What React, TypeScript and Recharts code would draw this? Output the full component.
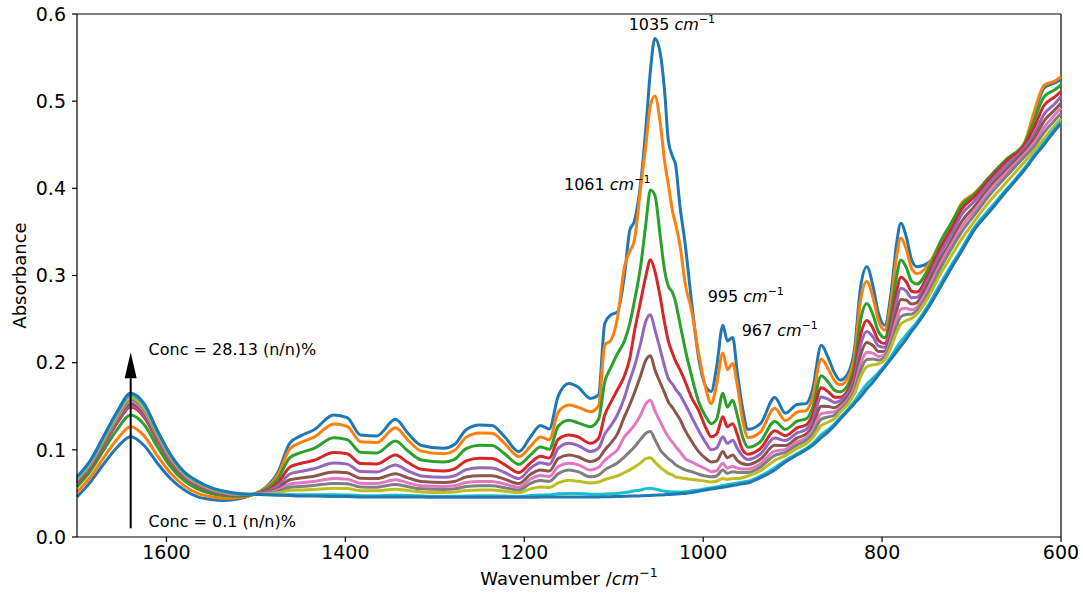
import React from 'react';
import { LineChart, Line, XAxis, YAxis, ReferenceLine, ReferenceDot } from 'recharts';

// wavenumbers (cm-1), shared by every spectrum
const WAVENUMBERS = [
  1700, 1685, 1670, 1655, 1640, 1625, 1610, 1595, 1580, 1565, 1550, 1535, 1520, 1505,
  1490, 1475, 1462, 1450, 1435, 1413, 1398, 1383, 1365, 1344, 1330, 1315, 1290, 1278, 1265, 1250, 1236, 1222, 1206,
  1193, 1182, 1172, 1162, 1150, 1140, 1126,
  1117, 1110, 1103, 1096, 1088, 1082, 1077, 1070, 1064, 1059, 1054, 1048, 1043, 1039, 1034, 1031, 1026, 1020, 1013, 1005, 997, 991, 985, 978, 973, 967, 962, 956, 950,
  936, 920, 908, 895, 885, 878, 868, 860, 853, 847, 838, 831, 824, 817, 810, 804, 797, 790, 784, 779, 773, 767, 761,
  749, 734, 720, 711, 697, 680, 660, 641, 630, 619, 607, 600,
];

// absorbance, highest concentration first
const S01 = [
  0.046, 0.063, 0.084, 0.103, 0.115, 0.105, 0.0845, 0.0665, 0.054, 0.046, 0.043, 0.042, 0.0436, 0.048,
  0.056, 0.075, 0.108, 0.116, 0.123, 0.14, 0.137, 0.117, 0.116, 0.135, 0.119, 0.105, 0.1017, 0.106, 0.123, 0.1285, 0.128, 0.115, 0.098,
  0.115, 0.128, 0.124, 0.162, 0.176, 0.172, 0.159,
  0.163, 0.245, 0.255, 0.258, 0.3, 0.352, 0.362, 0.405, 0.47, 0.535, 0.572, 0.555, 0.51, 0.455, 0.436, 0.428, 0.38, 0.335, 0.27, 0.205, 0.1725, 0.167, 0.195, 0.243, 0.225, 0.229, 0.19, 0.148, 0.1235,
  0.13, 0.16, 0.142, 0.152, 0.153, 0.168, 0.22, 0.205, 0.188, 0.18, 0.188, 0.2145, 0.287, 0.31, 0.287, 0.2566, 0.243, 0.2796, 0.335, 0.36, 0.3445, 0.318, 0.31,
  0.314, 0.333, 0.36, 0.378, 0.391, 0.411, 0.432, 0.45, 0.485, 0.515, 0.521, 0.525,
];
const S02 = [
  0.0513, 0.0688, 0.0914, 0.1124, 0.1265, 0.116, 0.0931, 0.0728, 0.0587, 0.0501, 0.0461, 0.0444, 0.0451, 0.0482,
  0.0552, 0.072, 0.1013, 0.1084, 0.1146, 0.1297, 0.127, 0.1092, 0.1083, 0.1252, 0.111, 0.0985, 0.0955, 0.0993, 0.1145, 0.1194, 0.1189, 0.1074, 0.0922,
  0.1039, 0.1148, 0.1115, 0.1434, 0.1514, 0.149, 0.1438,
  0.15, 0.22, 0.226, 0.25, 0.31, 0.328, 0.34, 0.4, 0.45, 0.495, 0.506, 0.475, 0.43, 0.405, 0.372, 0.36, 0.335, 0.29, 0.26, 0.21, 0.17, 0.153, 0.175, 0.211, 0.192, 0.199, 0.175, 0.135, 0.114,
  0.1207, 0.1476, 0.1336, 0.1433, 0.145, 0.1586, 0.2041, 0.1924, 0.179, 0.1746, 0.1828, 0.2071, 0.2719, 0.2932, 0.2739, 0.2481, 0.2372, 0.2705, 0.3202, 0.3431, 0.3304, 0.3082, 0.3021,
  0.311, 0.34, 0.365, 0.383, 0.394, 0.413, 0.434, 0.452, 0.488, 0.518, 0.523, 0.528,
];
const S03 = [
  0.0575, 0.0755, 0.1, 0.1235, 0.14, 0.129, 0.1033, 0.0803, 0.0643, 0.055, 0.0498, 0.0472, 0.0468, 0.0485,
  0.0539, 0.0674, 0.0911, 0.0967, 0.1017, 0.1138, 0.1117, 0.0971, 0.0964, 0.1101, 0.0986, 0.0884, 0.086, 0.0891, 0.1013, 0.1053, 0.1049, 0.0955, 0.0833,
  0.0942, 0.1033, 0.1006, 0.1272, 0.134, 0.131, 0.1265,
  0.135, 0.178, 0.195, 0.21, 0.225, 0.245, 0.27, 0.31, 0.36, 0.398, 0.392, 0.345, 0.305, 0.288, 0.28, 0.27, 0.245, 0.215, 0.185, 0.155, 0.138, 0.13, 0.135, 0.165, 0.149, 0.157, 0.14, 0.115, 0.103,
  0.1095, 0.1326, 0.1235, 0.1329, 0.1355, 0.1472, 0.185, 0.1773, 0.1682, 0.1665, 0.1751, 0.1961, 0.2492, 0.268, 0.2543, 0.2354, 0.2286, 0.2569, 0.2981, 0.3177, 0.3093, 0.2934, 0.2902,
  0.306, 0.34, 0.365, 0.381, 0.393, 0.413, 0.434, 0.451, 0.478, 0.505, 0.513, 0.5185,
];
const S04 = [
  0.0616, 0.08, 0.1058, 0.1309, 0.149, 0.1376, 0.11, 0.0852, 0.068, 0.0582, 0.0522, 0.0491, 0.048, 0.0487,
  0.0526, 0.0626, 0.0802, 0.0843, 0.088, 0.097, 0.0954, 0.0843, 0.0838, 0.0941, 0.0854, 0.0778, 0.0758, 0.0782, 0.0874, 0.0903, 0.0901, 0.083, 0.0739,
  0.0851, 0.0927, 0.0905, 0.1121, 0.117, 0.115, 0.1075,
  0.113, 0.14, 0.155, 0.1686, 0.185, 0.205, 0.235, 0.27, 0.3, 0.318, 0.305, 0.275, 0.245, 0.225, 0.21, 0.202, 0.192, 0.178, 0.16, 0.145, 0.125, 0.115, 0.118, 0.138, 0.1265, 0.13, 0.118, 0.1, 0.095,
  0.1015, 0.1218, 0.1162, 0.1253, 0.1286, 0.139, 0.1712, 0.1664, 0.1604, 0.1602, 0.1691, 0.1874, 0.2316, 0.2484, 0.239, 0.2255, 0.2219, 0.2463, 0.2809, 0.298, 0.2928, 0.2819, 0.281,
  0.3, 0.333, 0.358, 0.376, 0.39, 0.41, 0.432, 0.449, 0.47, 0.495, 0.505, 0.511,
];
const S05 = [
  0.0626, 0.081, 0.107, 0.1325, 0.151, 0.1396, 0.1115, 0.0863, 0.0688, 0.059, 0.0528, 0.0495, 0.0482, 0.0487,
  0.0516, 0.0591, 0.0723, 0.0753, 0.0782, 0.0848, 0.0836, 0.0751, 0.0747, 0.0825, 0.0759, 0.0701, 0.0685, 0.0703, 0.0773, 0.0795, 0.0793, 0.074, 0.067,
  0.0789, 0.0853, 0.0834, 0.1017, 0.1075, 0.105, 0.098,
  0.102, 0.118, 0.128, 0.14, 0.16, 0.18, 0.195, 0.222, 0.248, 0.255, 0.238, 0.215, 0.195, 0.182, 0.175, 0.17, 0.163, 0.152, 0.138, 0.122, 0.108, 0.1, 0.102, 0.115, 0.1075, 0.111, 0.102, 0.093, 0.089,
  0.0953, 0.1135, 0.1106, 0.1195, 0.1233, 0.1327, 0.1606, 0.158, 0.1544, 0.1562, 0.1652, 0.1819, 0.2202, 0.2358, 0.2292, 0.2192, 0.2176, 0.2395, 0.2698, 0.2853, 0.2822, 0.2745, 0.275,
  0.295, 0.327, 0.352, 0.37, 0.385, 0.406, 0.428, 0.446, 0.462, 0.485, 0.497, 0.505,
];
const S06 = [
  0.0635, 0.082, 0.1083, 0.1342, 0.153, 0.1415, 0.113, 0.0874, 0.0697, 0.0597, 0.0533, 0.0499, 0.0485, 0.0488,
  0.0508, 0.0561, 0.0657, 0.0677, 0.0698, 0.0746, 0.0737, 0.0673, 0.067, 0.0727, 0.0679, 0.0636, 0.0624, 0.0637, 0.0688, 0.0704, 0.0703, 0.0664, 0.0613,
  0.0719, 0.077, 0.0756, 0.0901, 0.094, 0.092, 0.0864,
  0.09, 0.1, 0.108, 0.118, 0.138, 0.152, 0.165, 0.185, 0.203, 0.208, 0.192, 0.177, 0.165, 0.155, 0.148, 0.143, 0.135, 0.122, 0.11, 0.098, 0.09, 0.086, 0.087, 0.098, 0.091, 0.094, 0.088, 0.084, 0.083,
  0.0891, 0.1052, 0.105, 0.1137, 0.118, 0.1264, 0.15, 0.1496, 0.1484, 0.1521, 0.1613, 0.1764, 0.2089, 0.2232, 0.2194, 0.2128, 0.2132, 0.2327, 0.2587, 0.2726, 0.2717, 0.2672, 0.2691,
  0.29, 0.32, 0.345, 0.362, 0.379, 0.401, 0.423, 0.443, 0.457, 0.477, 0.49, 0.498,
];
const S07 = [
  0.0649, 0.0835, 0.1102, 0.1366, 0.156, 0.1444, 0.1153, 0.089, 0.0709, 0.0608, 0.0542, 0.0505, 0.0488, 0.0488,
  0.0502, 0.0539, 0.0608, 0.0622, 0.0637, 0.0671, 0.0664, 0.0616, 0.0614, 0.0656, 0.0621, 0.0588, 0.0579, 0.0588, 0.0626, 0.0638, 0.0637, 0.0608, 0.0571,
  0.0664, 0.0705, 0.0694, 0.0808, 0.0845, 0.083, 0.0769,
  0.08, 0.088, 0.094, 0.1, 0.115, 0.122, 0.128, 0.14, 0.153, 0.157, 0.145, 0.132, 0.122, 0.115, 0.108, 0.104, 0.098, 0.09, 0.086, 0.082, 0.078, 0.075, 0.076, 0.0845, 0.079, 0.081, 0.079, 0.078, 0.078,
  0.0841, 0.0986, 0.1006, 0.1091, 0.1138, 0.1214, 0.1416, 0.1428, 0.1436, 0.1485, 0.1579, 0.1715, 0.1988, 0.212, 0.2107, 0.2072, 0.2094, 0.2267, 0.2489, 0.2613, 0.2623, 0.2606, 0.2638,
  0.284, 0.315, 0.34, 0.356, 0.374, 0.397, 0.419, 0.439, 0.452, 0.47, 0.484, 0.492,
];
const S08 = [
  0.0658, 0.0845, 0.1115, 0.1383, 0.158, 0.1463, 0.1168, 0.0902, 0.0717, 0.0615, 0.0547, 0.0509, 0.0491, 0.0489,
  0.0497, 0.0523, 0.0572, 0.058, 0.0592, 0.0615, 0.061, 0.0574, 0.0572, 0.0602, 0.0577, 0.0553, 0.0545, 0.0552, 0.0579, 0.0588, 0.0587, 0.0566, 0.0539,
  0.0615, 0.0647, 0.0639, 0.0727, 0.0769, 0.075, 0.069,
  0.071, 0.077, 0.081, 0.085, 0.092, 0.098, 0.103, 0.112, 0.119, 0.121, 0.112, 0.1, 0.094, 0.09, 0.086, 0.083, 0.08, 0.077, 0.075, 0.072, 0.07, 0.069, 0.07, 0.0769, 0.073, 0.075, 0.074, 0.074, 0.074,
  0.0804, 0.0936, 0.0972, 0.1056, 0.1106, 0.1176, 0.1352, 0.1378, 0.14, 0.1458, 0.1553, 0.1678, 0.1912, 0.2036, 0.2042, 0.2029, 0.2065, 0.2221, 0.2415, 0.2528, 0.2552, 0.2557, 0.2598,
  0.279, 0.31, 0.335, 0.35, 0.369, 0.392, 0.415, 0.436, 0.448, 0.464, 0.478, 0.486,
];
const S09 = [
  0.0667, 0.0855, 0.1128, 0.1399, 0.16, 0.1482, 0.1183, 0.0913, 0.0725, 0.0622, 0.0552, 0.0514, 0.0494, 0.0489,
  0.0493, 0.0507, 0.0536, 0.0539, 0.0546, 0.0559, 0.0556, 0.0531, 0.053, 0.0549, 0.0533, 0.0517, 0.0511, 0.0515, 0.0533, 0.0538, 0.0538, 0.0525, 0.0508,
  0.0552, 0.0573, 0.0569, 0.0622, 0.065, 0.064, 0.062,
  0.063, 0.066, 0.068, 0.07, 0.074, 0.077, 0.08, 0.085, 0.09, 0.091, 0.086, 0.08, 0.076, 0.073, 0.071, 0.069, 0.068, 0.067, 0.066, 0.065, 0.064, 0.063, 0.064, 0.067, 0.066, 0.067, 0.067, 0.068, 0.07,
  0.0761, 0.0878, 0.0933, 0.1015, 0.1069, 0.1132, 0.1278, 0.1319, 0.1358, 0.1431, 0.1527, 0.1641, 0.1837, 0.1952, 0.1976, 0.1987, 0.2036, 0.2176, 0.2341, 0.2444, 0.2482, 0.2508, 0.2559,
  0.274, 0.303, 0.327, 0.342, 0.362, 0.385, 0.408, 0.43, 0.443, 0.457, 0.472, 0.48,
];
const S10 = [
  0.0681, 0.087, 0.1147, 0.1424, 0.163, 0.1511, 0.1205, 0.0929, 0.0738, 0.0633, 0.0561, 0.052, 0.0497, 0.049,
  0.0487, 0.0485, 0.0487, 0.0484, 0.0485, 0.0484, 0.0483, 0.0474, 0.0474, 0.0478, 0.0475, 0.047, 0.0466, 0.0467, 0.047, 0.0472, 0.0472, 0.0469, 0.0466,
  0.0476, 0.0483, 0.0483, 0.0495, 0.05, 0.05, 0.049,
  0.049, 0.0492, 0.0495, 0.05, 0.051, 0.052, 0.053, 0.054, 0.0555, 0.0558, 0.055, 0.0535, 0.0525, 0.052, 0.0515, 0.0515, 0.0515, 0.052, 0.053, 0.054, 0.0555, 0.0565, 0.0575, 0.059, 0.06, 0.061, 0.062, 0.063, 0.064,
  0.0699, 0.0795, 0.0877, 0.0957, 0.1016, 0.1069, 0.1172, 0.1235, 0.1298, 0.1368, 0.1467, 0.1555, 0.166, 0.1756, 0.1824, 0.1888, 0.1969, 0.207, 0.2169, 0.2246, 0.2317, 0.2393, 0.2466,
  0.265, 0.292, 0.316, 0.331, 0.355, 0.376, 0.4, 0.423, 0.438, 0.452, 0.468, 0.476,
];
const S11 = [
  0.069, 0.088, 0.116, 0.144, 0.165, 0.153, 0.122, 0.094, 0.0746, 0.064, 0.0566, 0.0524, 0.05, 0.049,
  0.0485, 0.048, 0.0475, 0.047, 0.047, 0.0465, 0.0465, 0.046, 0.046, 0.046, 0.046, 0.0458, 0.0455, 0.0455, 0.0455, 0.0455, 0.0455, 0.0455, 0.0455,
  0.0455, 0.0458, 0.046, 0.046, 0.046, 0.046, 0.046,
  0.046, 0.0462, 0.0463, 0.0465, 0.0467, 0.047, 0.047, 0.0472, 0.0475, 0.0477, 0.048, 0.0482, 0.0485, 0.0488, 0.049, 0.0493, 0.0497, 0.05, 0.051, 0.0525, 0.054, 0.055, 0.056, 0.057, 0.058, 0.059, 0.06, 0.061, 0.062,
  0.068, 0.077, 0.086, 0.094, 0.1, 0.105, 0.114, 0.121, 0.128, 0.135, 0.145, 0.153, 0.161, 0.17, 0.178, 0.186, 0.195, 0.204, 0.212, 0.219, 0.227, 0.236, 0.244,
  0.262, 0.288, 0.313, 0.328, 0.352, 0.373, 0.398, 0.421, 0.436, 0.45, 0.466, 0.4745,
];

const X_TICKS = [1600, 1400, 1200, 1000, 800, 600];
const Y_TICKS = [0, 0.1, 0.2, 0.3, 0.4, 0.5, 0.6];

const SERIES = [
  { key: 's01', values: S01, color: '#1f77b4' },
  { key: 's02', values: S02, color: '#ff7f0e' },
  { key: 's03', values: S03, color: '#2ca02c' },
  { key: 's04', values: S04, color: '#d62728' },
  { key: 's05', values: S05, color: '#9467bd' },
  { key: 's06', values: S06, color: '#8c564b' },
  { key: 's07', values: S07, color: '#e377c2' },
  { key: 's08', values: S08, color: '#7f7f7f' },
  { key: 's09', values: S09, color: '#bcbd22' },
  { key: 's10', values: S10, color: '#17becf' },
  { key: 's11', values: S11, color: '#1f77b4' },
];

const FONT = '"DejaVu Sans", Verdana, sans-serif';

const data = WAVENUMBERS.map((wn, i) => {
  const row: Record<string, number> = { wn };
  SERIES.forEach((s) => {
    row[s.key] = s.values[i];
  });
  return row;
});

// text with an optional "cm^-1" suffix, placed at the reference dot
function Note({ viewBox, text, anchor = 'start', unit = false }: any) {
  if (!viewBox) return null;
  const x = viewBox.x + (viewBox.width || 0) / 2;
  const y = viewBox.y + (viewBox.height || 0) / 2;
  return (
    <text x={x} y={y} textAnchor={anchor} fontSize={16} fontFamily={FONT} fill="#000">
      {text}
      {unit && <tspan fontStyle="italic">{' cm'}</tspan>}
      {unit && <tspan dy={-7} fontSize={11}>−1</tspan>}
    </text>
  );
}

function ArrowShape(props: any) {
  const { x1, y1, x2, y2 } = props;
  if ([x1, y1, x2, y2].some((v) => typeof v !== 'number' || isNaN(v))) return null;
  const top = Math.min(y1, y2);
  const bottom = Math.max(y1, y2);
  const head = 26;
  const half = 6;
  return (
    <g>
      <line x1={x1} y1={bottom} x2={x1} y2={top + head} stroke="#000" strokeWidth={2} />
      <polygon points={`${x1},${top} ${x1 - half},${top + head} ${x1 + half},${top + head}`} fill="#000" />
    </g>
  );
}

function XLabel({ viewBox }: any) {
  if (!viewBox) return null;
  return (
    <text x={viewBox.x + viewBox.width / 2} y={viewBox.y + 48} textAnchor="middle" fontSize={18} fontFamily={FONT} fill="#000">
      Wavenumber /<tspan fontStyle="italic">cm</tspan>
      <tspan dy={-8} fontSize={12.5}>−1</tspan>
    </text>
  );
}

function YLabel({ viewBox }: any) {
  if (!viewBox) return null;
  const x = viewBox.x + 26;
  const y = viewBox.y + viewBox.height / 2;
  return (
    <text x={x} y={y} transform={`rotate(-90 ${x} ${y})`} textAnchor="middle" fontSize={18} fontFamily={FONT} fill="#000">
      Absorbance
    </text>
  );
}

export default function App() {
  const tickStyle = { fill: '#000', fontSize: 19, fontFamily: FONT };
  return (
    <div style={{ position: 'absolute', left: 0, top: 0, background: '#fff' }}>
      <LineChart width={1083} height={597} data={data} margin={{ top: 14, right: 22, bottom: 0, left: 0 }}>
        <XAxis
          dataKey="wn"
          type="number"
          domain={[600, 1700]}
          reversed
          ticks={X_TICKS}
          interval={0}
          tick={tickStyle}
          tickSize={5}
          tickMargin={4}
          height={60}
          axisLine={{ stroke: '#000', strokeWidth: 1.2 }}
          tickLine={{ stroke: '#000', strokeWidth: 1.2 }}
          label={<XLabel />}
        />
        <YAxis
          type="number"
          domain={[0, 0.6]}
          ticks={Y_TICKS}
          interval={0}
          tickFormatter={(v: number) => v.toFixed(1)}
          tick={tickStyle}
          tickSize={5}
          tickMargin={6}
          width={77}
          axisLine={{ stroke: '#000', strokeWidth: 1.2 }}
          tickLine={{ stroke: '#000', strokeWidth: 1.2 }}
          label={<YLabel />}
        />
        <ReferenceLine y={0.6} stroke="#000" strokeWidth={1.2} />
        <ReferenceLine x={600} stroke="#000" strokeWidth={1.2} />
        {SERIES.map((s) => (
          <Line
            key={s.key}
            dataKey={s.key}
            type="monotone"
            stroke={s.color}
            strokeWidth={3}
            dot={false}
            activeDot={false}
            isAnimationActive={false}
          />
        ))}
        <ReferenceLine
          segment={[{ x: 1640, y: 0.01 }, { x: 1640, y: 0.212 }]}
          shape={ArrowShape}
        />
        <ReferenceDot x={1035} y={0.582} r={1} fill="none" stroke="none" label={<Note text="1035" anchor="middle" unit />} />
        <ReferenceDot x={1059} y={0.398} r={1} fill="none" stroke="none" label={<Note text="1061" anchor="end" unit />} />
        <ReferenceDot x={995} y={0.27} r={1} fill="none" stroke="none" label={<Note text="995" unit />} />
        <ReferenceDot x={957} y={0.231} r={1} fill="none" stroke="none" label={<Note text="967" unit />} />
        <ReferenceDot x={1620} y={0.209} r={1} fill="none" stroke="none" label={<Note text="Conc = 28.13 (n/n)%" />} />
        <ReferenceDot x={1620} y={0.0115} r={1} fill="none" stroke="none" label={<Note text="Conc = 0.1 (n/n)%" />} />
      </LineChart>
    </div>
  );
}
